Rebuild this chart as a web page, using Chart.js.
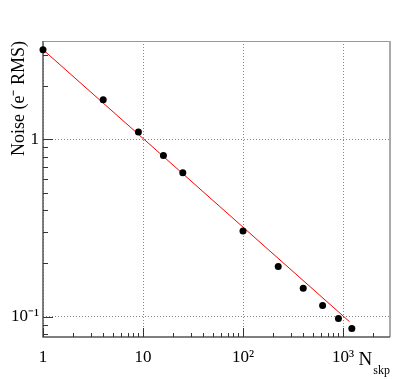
<!DOCTYPE html>
<html>
<head>
<meta charset="utf-8">
<script src="https://cdn.jsdelivr.net/npm/chart.js@4"></script>
<style>
  html, body { margin: 0; padding: 0; background: #fff; }
</style>
</head>
<body>
<canvas id="noiseChart" width="398" height="379"></canvas>
<script>
// measured points
const nSkp = [1, 4, 9, 16, 25, 100, 225, 400, 625, 900, 1225];
const noise = [3.20, 1.67, 1.10, 0.81, 0.648, 0.305, 0.192, 0.145, 0.116, 0.098, 0.086];

// fitted line end points
const fitX = [1, 1160];
const fitY = [3.2, 0.094];

// tick labels
const xTickValues = [1, 10, 100, 1000];
const xTickLabels = ['1', '10', '10²', '10³'];
const yTickValues = [0.1, 1];
const yTickLabels = ['10⁻¹', '1'];

const serif = 'Liberation Serif';

// frame, inward ticks and the N_skp axis title
const framePlugin = {
    id: 'frame',
    beforeDatasetsDraw(chart) {
        const ctx = chart.ctx;
        const a = chart.chartArea;
        const xs = chart.scales.x, ys = chart.scales.y;
        ctx.save();

        // top + right
        ctx.strokeStyle = '#999';
        ctx.lineWidth = 1;
        ctx.beginPath();
        ctx.moveTo(a.left, a.top + 0.5);
        ctx.lineTo(a.right, a.top + 0.5);
        ctx.stroke();
        ctx.strokeStyle = '#aaa';
        ctx.lineWidth = 2;
        ctx.beginPath();
        ctx.moveTo(a.right, a.top);
        ctx.lineTo(a.right, a.bottom);
        ctx.stroke();

        // left + bottom axes
        ctx.strokeStyle = '#555';
        ctx.lineWidth = 1.5;
        ctx.beginPath();
        ctx.moveTo(a.left, a.top);
        ctx.lineTo(a.left, a.bottom);
        ctx.lineTo(a.right, a.bottom);
        ctx.stroke();

        // minor/major ticks pointing inward
        ctx.lineWidth = 1;
        ctx.strokeStyle = '#333';
        const logTicks = (min, max) => {
            const out = [];
            for (let d = Math.floor(Math.log10(min)); d <= Math.ceil(Math.log10(max)); d++) {
                for (let m = 1; m <= 9; m++) {
                    const v = m * Math.pow(10, d);
                    if (v >= min && v <= max) out.push({ v, major: m === 1 });
                }
            }
            return out;
        };
        ctx.beginPath();
        logTicks(xs.min, xs.max).forEach(t => {
            const px = Math.round(xs.getPixelForValue(t.v)) + 0.5;
            ctx.moveTo(px, a.bottom);
            ctx.lineTo(px, a.bottom - (t.major ? 9 : 4));
        });
        logTicks(ys.min, ys.max).forEach(t => {
            const py = Math.round(ys.getPixelForValue(t.v)) + 0.5;
            ctx.moveTo(a.left, py);
            ctx.lineTo(a.left + (t.major ? 10 : 5), py);
        });
        ctx.stroke();

        // x title with subscript
        ctx.fillStyle = '#000';
        ctx.textBaseline = 'alphabetic';
        ctx.textAlign = 'right';
        ctx.font = '12px "' + serif + '"';
        const subW = ctx.measureText('skp').width;
        ctx.fillText('skp', a.right, 374);
        ctx.font = '19px "' + serif + '"';
        ctx.fillText('N', a.right - subW - 1, 365);
        ctx.restore();
    }
};

const noiseCtx = document.getElementById('noiseChart').getContext('2d');
const noiseChart = new Chart(noiseCtx, {
    type: 'scatter',
    data: {
        datasets: [{
            label: 'Noise',
            data: nSkp.map((x, i) => ({ x: x, y: noise[i] })),
            pointRadius: 3.5,
            pointHoverRadius: 3.5,
            backgroundColor: '#000',
            borderColor: '#000',
            borderWidth: 0,
            clip: false,
            order: 1
        }, {
            label: 'Fit',
            data: fitX.map((x, i) => ({ x: x, y: fitY[i] })),
            showLine: true,
            borderColor: '#ff0000',
            borderWidth: 1,
            pointRadius: 0,
            fill: false,
            order: 2
        }]
    },
    options: {
        responsive: false,
        animation: false,
        devicePixelRatio: 1,
        layout: { padding: { top: 41, right: 8, left: 0, bottom: 0 } },
        plugins: {
            legend: { display: false },
            tooltip: { enabled: false }
        },
        scales: {
            x: {
                type: 'logarithmic',
                min: 1,
                max: 2950,
                afterFit: s => { s.height = 42; },
                afterBuildTicks: s => { s.ticks = xTickValues.map(v => ({ value: v })); },
                ticks: {
                    autoSkip: false,
                    maxRotation: 0,
                    padding: 10,
                    color: '#000',
                    font: { family: serif, size: 17 },
                    callback: v => xTickLabels[xTickValues.indexOf(v)]
                },
                grid: { color: '#888', lineWidth: 1, drawTicks: false },
                border: { display: false, dash: [1, 2] }
            },
            y: {
                type: 'logarithmic',
                min: 0.077,
                max: 3.58,
                afterFit: s => { s.width = 43; },
                afterBuildTicks: s => { s.ticks = yTickValues.map(v => ({ value: v })); },
                ticks: {
                    autoSkip: false,
                    padding: 4,
                    color: '#000',
                    font: { family: serif, size: 17 },
                    callback: v => yTickLabels[yTickValues.indexOf(v)]
                },
                grid: { color: '#888', lineWidth: 1, drawTicks: false },
                border: { display: false, dash: [1, 2] },
                title: {
                    display: true,
                    text: 'Noise (e⁻ RMS)',
                    align: 'end',
                    color: '#000',
                    font: { family: serif, size: 18 },
                    padding: { top: 8, bottom: 0 }
                }
            }
        }
    },
    plugins: [framePlugin]
});
</script>
</body>
</html>
